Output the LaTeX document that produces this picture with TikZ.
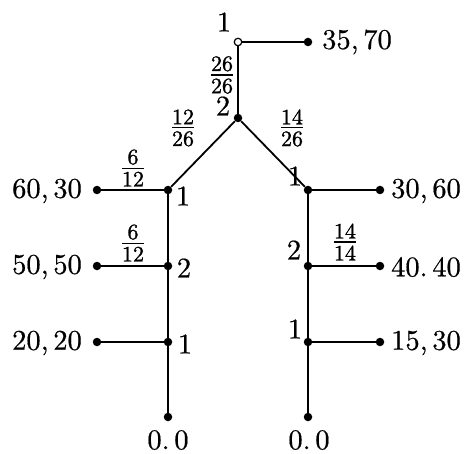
\RequirePackage{fix-cm}
\documentclass[tikz,border=0pt]{standalone}
\usepackage{fontspec}
\newfontfamily\heavy{lmroman10-regular}[Extension=.otf,FakeBold=0.6]
\newfontfamily\heavier{lmroman10-regular}[Extension=.otf,FakeBold=1.2]
\newcommand{\pf}[2]{\vbox{\offinterlineskip\halign{\hfil##\hfil\cr #1\cr\noalign{\kern3pt\hrule height 1.1pt\kern3pt}#2\cr}}}
\begin{document}
\begin{tikzpicture}[x=1pt,y=-1pt,
  edge/.style={line width=1.8pt},
  dot/.style={circle,fill=black,inner sep=0pt,minimum size=8.5pt},
  odot/.style={circle,draw=black,fill=white,line width=1.2pt,inner sep=0pt,minimum size=7.5pt},
  lab/.style={inner sep=0pt,font=\fontsize{28.5}{32}\selectfont\heavy},
  fr/.style={inner sep=0pt,font=\fontsize{22}{25}\selectfont\heavier}]
\useasboundingbox (0,0) rectangle (465,454);
% decision/chance nodes
\node[odot] (r) at (238,42) {};
\node[dot] (c) at (238,118) {};
\node[dot] (l1) at (168,190) {};
\node[dot] (l2) at (168,266) {};
\node[dot] (l3) at (168,342) {};
\node[dot] (lb) at (168,417) {};
\node[dot] (r1) at (308,190) {};
\node[dot] (r2) at (308,266) {};
\node[dot] (r3) at (308,342) {};
\node[dot] (rb) at (308,417) {};
% leaves
\node[dot] (t0) at (308,42) {};
\node[dot] (a1) at (97,190) {};
\node[dot] (a2) at (97,266) {};
\node[dot] (a3) at (97,342) {};
\node[dot] (b1) at (380,190) {};
\node[dot] (b2) at (380,266) {};
\node[dot] (b3) at (380,342) {};
% edges
\draw[edge] (r) -- (t0);
\draw[edge] (r) -- (c);
\draw[edge] (c) -- (l1);
\draw[edge] (c) -- (r1);
\draw[edge] (l1) -- (a1);
\draw[edge] (l2) -- (a2);
\draw[edge] (l3) -- (a3);
\draw[edge] (l1) -- (l2);
\draw[edge] (l2) -- (l3);
\draw[edge] (l3) -- (lb);
\draw[edge] (r1) -- (b1);
\draw[edge] (r2) -- (b2);
\draw[edge] (r3) -- (b3);
\draw[edge] (r1) -- (r2);
\draw[edge] (r2) -- (r3);
\draw[edge] (r3) -- (rb);
% payoff texts
\node[lab] (tt0) at (357,42) {35,\,70};
\node[lab] (ta1) at (47,191) {60,\,30};
\node[lab] (ta2) at (47,267) {50,\,50};
\node[lab] (ta3) at (47,343) {20,\,20};
\node[lab] (tb1) at (426,191) {30,\,60};
\node[lab] (tb2) at (426,267) {40.\,40};
\node[lab] (tb3) at (426,343) {15,\,30};
\node[lab] (tlb) at (168,440) {0.\,0};
\node[lab] (trb) at (309,440) {0.\,0};
% player labels
\node[lab] (pr) at (224,22) {1};
\node[lab] (pc) at (223,106) {2};
\node[lab] (pl1) at (183,196) {1};
\node[lab] (pl2) at (184,268) {2};
\node[lab] (pl3) at (185,344) {1};
\node[lab] (pr1) at (295,176) {1};
\node[lab] (pr2) at (294,250) {2};
\node[lab] (pr3) at (295,329) {1};
% probabilities
\node[fr] (f0) at (222,75) {\pf{26}{26}};
\node[fr] (f1) at (183,128) {\pf{12}{26}};
\node[fr] (f2) at (292,128) {\pf{14}{26}};
\node[fr] (f3) at (133,168) {\pf{6}{12}};
\node[fr] (f4) at (133,243) {\pf{6}{12}};
\node[fr] (f5) at (345,242) {\pf{14}{14}};
\end{tikzpicture}
\end{document}
